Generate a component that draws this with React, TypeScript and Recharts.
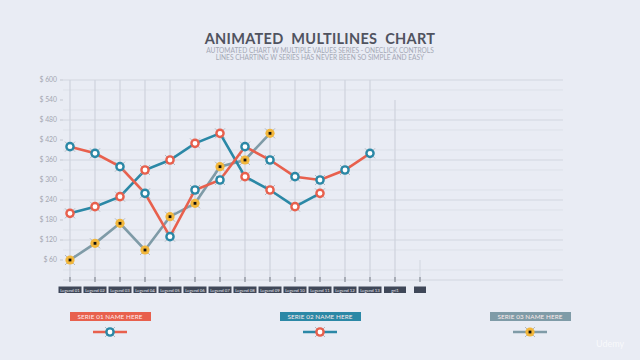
import React from 'react';
import { LineChart, Line, XAxis, YAxis, CartesianGrid, ReferenceLine, Legend } from 'recharts';

const categories = ['Legend 01', 'Legend 02', 'Legend 03', 'Legend 04', 'Legend 05', 'Legend 06', 'Legend 07', 'Legend 08', 'Legend 09', 'Legend 10', 'Legend 11', 'Legend 12', 'Legend 13', 'gri1', ''];
const serie01 = [400, 380, 340, 260, 130, 270, 300, 400, 360, 310, 300, 330, 380];
const serie02 = [200, 220, 250, 330, 360, 410, 440, 310, 270, 220, 260];
const serie03 = [60, 110, 170, 90, 190, 230, 340, 360, 440];
const seriesNames = ['SERIE 01 NAME HERE', 'SERIE 02 NAME HERE', 'SERIE 03 NAME HERE'];
const leftTicks = [60, 120, 180, 240, 300, 360, 420, 480, 540, 600];
const minorValues = [30, 90, 150, 210, 270, 330, 390, 450, 510, 570];
const rightTicks = [45, 90, 135, 180, 225, 270, 315, 360, 405, 450];
const gridTops = [600, 600, 600, 600, 600, 600, 600, 600, 600, 600, 600, 600, 600, 540, 60];

const RED = '#e8604d';
const BLUE = '#2b88a6';
const GREY = '#7f9ba7';
const YELLOW = '#f2b73c';
const BG = '#e9ecf4';

const data = categories.map((c, i) => ({
  x: i,
  name: c,
  s1: serie01[i],
  s2: serie02[i],
  s3: serie03[i],
}));

const Cross = ({ cx, cy }: { cx: number; cy: number }) => (
  <g>
    <line x1={cx - 5} y1={cy - 5} x2={cx + 5} y2={cy + 5} stroke="#9aa0ab" strokeWidth={0.7} />
    <line x1={cx - 5} y1={cy + 5} x2={cx + 5} y2={cy - 5} stroke="#9aa0ab" strokeWidth={0.7} />
  </g>
);

const ringDot = (color: string) => (props: any) => {
  const { cx, cy, value, index } = props;
  if (value == null || cx == null || cy == null) return <g key={`e${index}`} />;
  return (
    <g key={`d${index}`}>
      <Cross cx={cx} cy={cy} />
      <circle cx={cx} cy={cy} r={3.6} fill="#ffffff" stroke={color} strokeWidth={2.4} />
    </g>
  );
};

const yellowDot = (props: any) => {
  const { cx, cy, value, index } = props;
  if (value == null || cx == null || cy == null) return <g key={`e${index}`} />;
  return (
    <g key={`d${index}`}>
      <Cross cx={cx} cy={cy} />
      <circle cx={cx} cy={cy} r={4.6} fill={YELLOW} />
      <rect x={cx - 1.4} y={cy - 1.4} width={2.8} height={2.8} fill="#111" />
    </g>
  );
};

const XTick = (props: any) => {
  const { x, y, payload } = props;
  const label = categories[payload.value] ?? '';
  const w = label === '' ? 12 : label.length <= 4 ? 22 : 23;
  return (
    <g>
      <line x1={x} y1={y - 3} x2={x} y2={y + 2} stroke="#8d929c" strokeWidth={1.3} />
      <rect x={x - w / 2} y={y + 6.5} width={w} height={6.5} fill="#3f4758" />
      <text x={x} y={y + 11.6} textAnchor="middle" fontSize={4.3} fill="#e6e9ef" fontFamily="Lato, sans-serif">
        {label}
      </text>
    </g>
  );
};

const legendStyles = [
  { badge: RED, line: RED, marker: 'ring', markerColor: BLUE },
  { badge: BLUE, line: BLUE, marker: 'ring', markerColor: RED },
  { badge: GREY, line: GREY, marker: 'yellow', markerColor: YELLOW },
];

const LegendContent = () => (
  <div style={{ position: 'relative', width: 640, height: 30 }}>
    {seriesNames.map((n, i) => {
      const st = legendStyles[i];
      const center = 110 + i * 210;
      return (
        <div key={n}>
          <div
            style={{
              position: 'absolute',
              left: center - 40.5,
              top: 0,
              width: 81,
              height: 9,
              background: st.badge,
              color: '#fdecea',
              fontFamily: 'Lato, sans-serif',
              fontSize: 6.3,
              lineHeight: '9px',
              textAlign: 'center',
              letterSpacing: 0.1,
            }}
          >
            {n}
          </div>
          <svg style={{ position: 'absolute', left: center - 20, top: 13 }} width={40} height={14}>
            <line x1={3} y1={7} x2={37} y2={7} stroke={st.line} strokeWidth={2.4} />
            <Cross cx={20} cy={7} />
            {st.marker === 'ring' ? (
              <circle cx={20} cy={7} r={3.6} fill="#fff" stroke={st.markerColor} strokeWidth={2.4} />
            ) : (
              <g>
                <circle cx={20} cy={7} r={4.6} fill={YELLOW} />
                <rect x={18.6} y={5.6} width={2.8} height={2.8} fill="#111" />
              </g>
            )}
          </svg>
        </div>
      );
    })}
  </div>
);

export default function App() {
  return (
    <div style={{ position: 'absolute', left: 0, top: 0, width: 640, height: 360, background: BG, overflow: 'hidden' }}>
      <div
        style={{
          position: 'absolute',
          top: 32,
          left: 0,
          width: 640,
          height: 14,
          textAlign: 'center',
          fontFamily: 'Lato, sans-serif',
          fontWeight: 700,
          fontSize: 14.5,
          lineHeight: '14px',
          color: '#50535f',
          letterSpacing: 0.3,
          wordSpacing: 4,
        }}
      >
        ANIMATED MULTILINES CHART
      </div>
      <div
        style={{
          position: 'absolute',
          top: 47,
          left: 0,
          width: 640,
          textAlign: 'center',
          fontFamily: 'Lato, sans-serif',
          fontSize: 6.6,
          lineHeight: '7px',
          color: '#a4a8b4',
        }}
      >
        AUTOMATED CHART W MULTIPLE VALUES SERIES - ONECLICK CONTROLS
        <br />
        LINES CHARTING W SERIES HAS NEVER BEEN SO SIMPLE AND EASY
      </div>
      <LineChart width={640} height={360} data={data} margin={{ top: 80, right: 0, bottom: 50, left: 0 }}>
        <CartesianGrid yAxisId="left" vertical={false} stroke="#d2d6df" strokeWidth={1} />
        {minorValues.map((v) => (
          <ReferenceLine key={`m${v}`} yAxisId="left" y={v} stroke="#dde1e9" strokeWidth={1} />
        ))}
        {categories.map((c, i) => (
          <ReferenceLine
            key={`v${i}`}
            yAxisId="left"
            segment={[{ x: i, y: gridTops[i] }, { x: i, y: 0 }]}
            stroke={i === 14 ? '#d6dae2' : '#cfd3dc'}
            strokeWidth={1.2}
          />
        ))}
        <XAxis
          dataKey="x"
          type="number"
          domain={[-0.28, 19.72]}
          ticks={categories.map((_, i) => i)}
          interval={0}
          allowDataOverflow
          axisLine={false}
          tickLine={false}
          tickSize={0}
          tickMargin={0}
          height={30}
          tick={<XTick />}
        />
        <YAxis
          yAxisId="left"
          domain={[0, 600]}
          ticks={leftTicks}
          tickFormatter={(v: number) => `$ ${v}`}
          axisLine={false}
          tickLine={{ stroke: '#c3c7d0' }}
          tickSize={3}
          tickMargin={3}
          width={63}
          tick={{ fontSize: 6.8, fill: '#a3a7b1', fontFamily: 'Lato, sans-serif' }}
        />
        <YAxis
          yAxisId="right"
          orientation="right"
          domain={[0, 450]}
          ticks={rightTicks}
          tickFormatter={(v: number) => `${v} €`}
          axisLine={false}
          tickLine={{ stroke: '#c3c7d0' }}
          tickSize={3}
          tickMargin={4}
          width={77}
          tick={{ fontSize: 6.8, fill: '#a3a7b1', fontFamily: 'Lato, sans-serif', textAnchor: 'start' }}
        />
        <Line yAxisId="left" dataKey="s3" stroke={GREY} strokeWidth={2.6} dot={yellowDot} activeDot={false} isAnimationActive={false} />
        <Line yAxisId="left" dataKey="s2" stroke={BLUE} strokeWidth={2.6} dot={ringDot(RED)} activeDot={false} isAnimationActive={false} />
        <Line yAxisId="left" dataKey="s1" stroke={RED} strokeWidth={2.6} dot={ringDot(BLUE)} activeDot={false} isAnimationActive={false} />
        <Legend
          layout="horizontal"
          verticalAlign="middle"
          align="center"
          content={<LegendContent />}
          wrapperStyle={{ position: 'absolute', top: 312, left: 0, width: 640, height: 30 }}
        />
      </LineChart>
      <div
        style={{
          position: 'absolute',
          left: 596,
          top: 338,
          fontFamily: 'Lato, sans-serif',
          fontSize: 9,
          color: '#ffffff',
          opacity: 0.7,
        }}
      >
        Udemy
      </div>
    </div>
  );
}
